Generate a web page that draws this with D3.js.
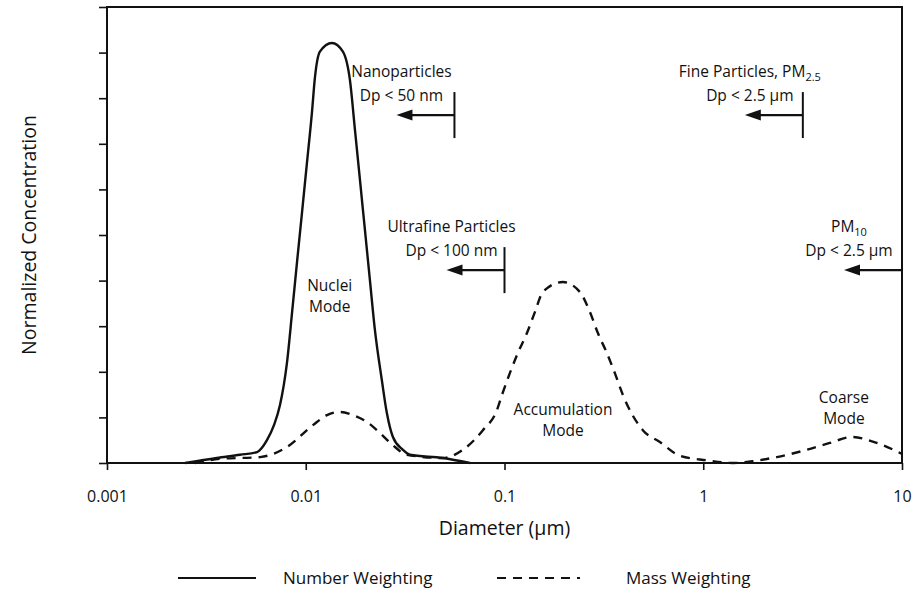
<!DOCTYPE html>
<html>
<head>
<meta charset="utf-8">
<script src="https://cdn.jsdelivr.net/npm/d3@7"></script>
<style>
    body { margin: 0; background: #fff; }
    text { font-family: "Open Sans", sans-serif; fill: #111; }
</style>
</head>
<body>
<svg id="chart" width="917" height="597"></svg>
<script>

// ----- DATA -----

// number weighting (solid line), diameter in µm
var numberDiam = [0.00247, 0.00357, 0.00467, 0.00569, 0.00638, 0.00692, 0.00742, 0.00804, 0.00853, 0.00903,
    0.00957, 0.01014, 0.01074, 0.01112, 0.01178, 0.01354, 0.01538, 0.01668, 0.01769, 0.01874,
    0.01985, 0.02103, 0.02228, 0.02414, 0.02558, 0.02745, 0.03081, 0.03341, 0.04895, 0.067];
var numberConc = [0, 0.11, 0.18, 0.24, 0.50, 0.83, 1.27, 2.19, 3.29, 4.39,
    5.48, 6.58, 7.68, 8.45, 9.02, 9.21, 9.02, 8.40, 7.30, 6.21,
    5.11, 4.01, 2.92, 1.82, 1.10, 0.57, 0.29, 0.18, 0.11, 0];

// mass weighting (dashed line)
var massDiam = [0.00277, 0.0037, 0.00589, 0.00804, 0.01087, 0.01279, 0.01486, 0.01727, 0.02031, 0.02361,
    0.02745, 0.03226, 0.04895, 0.0618, 0.07786, 0.09159, 0.09706, 0.1064, 0.1167, 0.1297,
    0.1422, 0.156, 0.1966, 0.2395, 0.269, 0.295, 0.3275, 0.3591, 0.3943, 0.4966,
    0.605, 0.7625, 1.042, 1.409, 1.775, 2.344, 3.318, 4.333, 5.593, 7.469, 10];
var massConc = [0, 0.09, 0.13, 0.35, 0.83, 1.05, 1.12, 1.05, 0.90, 0.66,
    0.39, 0.18, 0.11, 0.29, 0.72, 1.16, 1.49, 1.97, 2.41, 2.85,
    3.31, 3.75, 3.97, 3.75, 3.31, 2.85, 2.41, 1.97, 1.49, 0.72,
    0.46, 0.16, 0.06, 0, 0.04, 0.13, 0.29, 0.44, 0.57, 0.44, 0.20];

// axes
var xTicks = [0.001, 0.01, 0.1, 1, 10];
var xTickLabels = ["0.001", "0.01", "0.1", "1", "10"];
var yTicks = [0, 1, 2, 3, 4, 5, 6, 7, 8, 9, 10];

// size cut markers
var markerTitle = ["Nanoparticles", "Fine Particles, PM", "Ultrafine Particles", "PM"];
var markerSub = ["", "2.5", "", "10"];
var markerRange = ["Dp < 50 nm", "Dp < 2.5 µm", "Dp < 100 nm", "Dp < 2.5 µm"];
var markerDiam = [0.056, 3.17, 0.1, 10];
var markerLevel = [7.63, 7.63, 4.23, 4.23];

// mode labels
var modeName = ["Nuclei", "Accumulation", "Coarse"];
var modeDiam = [0.0132, 0.197, 5.1];
var modeLevel = [3.77, 1.05, 1.32];

// legend
var legendNames = ["Number Weighting", "Mass Weighting"];

// ----- CHART -----

var svg = d3.select("#chart");

var x = d3.scaleLog().domain([0.001, 10]).range([107, 902]);
var y = d3.scaleLinear().domain([0, 10]).range([463, 7]);

// axes
var xAxis = svg.append("g")
    .attr("transform", "translate(0," + y(0) + ")")
    .call(d3.axisBottom(x)
        .tickValues(xTicks)
        .tickFormat(function(d, i) { return xTickLabels[i]; })
        .tickSize(7)
        .tickPadding(32));
xAxis.select(".domain").remove();
xAxis.selectAll("line").attr("stroke", "#111").attr("stroke-width", 1.6);
xAxis.selectAll("text")
    .style("font-family", "'Open Sans', sans-serif")
    .style("font-size", "16px")
    .attr("fill", "#111")
    .attr("dy", "0");

var yAxis = svg.append("g")
    .attr("transform", "translate(" + x(0.001) + ",0)")
    .call(d3.axisLeft(y)
        .tickValues(yTicks)
        .tickFormat("")
        .tickSize(8));
yAxis.select(".domain").remove();
yAxis.selectAll("line").attr("stroke", "#111").attr("stroke-width", 1.6);

// frame
svg.append("rect")
    .attr("x", x(0.001))
    .attr("y", y(10))
    .attr("width", x(10) - x(0.001))
    .attr("height", y(0) - y(10))
    .attr("fill", "none")
    .attr("stroke", "#111")
    .attr("stroke-width", 2);

// axis titles
svg.append("text")
    .attr("x", (x(0.001) + x(10)) / 2)
    .attr("y", 535)
    .attr("text-anchor", "middle")
    .style("font-size", "19.5px")
    .text("Diameter (µm)");

svg.append("text")
    .attr("transform", "translate(36," + ((y(0) + y(10)) / 2) + ") rotate(-90)")
    .attr("text-anchor", "middle")
    .style("font-size", "19.5px")
    .text("Normalized Concentration");

// ----- CURVES -----

var line = d3.line()
    .x(function(d) { return x(d[0]); })
    .y(function(d) { return y(d[1]); })
    .curve(d3.curveMonotoneX);

svg.append("path")
    .datum(d3.zip(numberDiam, numberConc))
    .attr("d", line)
    .attr("fill", "none")
    .attr("stroke", "#111")
    .attr("stroke-width", 2.4);

svg.append("path")
    .datum(d3.zip(massDiam, massConc))
    .attr("d", line)
    .attr("fill", "none")
    .attr("stroke", "#111")
    .attr("stroke-width", 2.4)
    .attr("stroke-dasharray", "9,7");

// ----- MARKERS -----

markerDiam.forEach(function(d, i) {
    var mx = x(d);
    var my = y(markerLevel[i]);
    var tx = Math.min(mx - 53, x(10) - 40);

    // vertical cut line
    svg.append("line")
        .attr("x1", mx).attr("x2", mx)
        .attr("y1", my - 23).attr("y2", my + 23)
        .attr("stroke", "#111")
        .attr("stroke-width", 2);

    // arrow pointing to smaller sizes
    svg.append("line")
        .attr("x1", mx).attr("x2", mx - 44)
        .attr("y1", my).attr("y2", my)
        .attr("stroke", "#111")
        .attr("stroke-width", 2.2);
    svg.append("path")
        .attr("d", "M" + (mx - 58) + "," + my + " L" + (mx - 42) + "," + (my - 5.5) + " L" + (mx - 42) + "," + (my + 5.5) + " Z")
        .attr("fill", "#111");

    var t = svg.append("text")
        .attr("x", tx)
        .attr("y", my - 38)
        .attr("text-anchor", "middle")
        .style("font-size", "15.5px");
    t.append("tspan").text(markerTitle[i]);
    if (markerSub[i]) {
        t.append("tspan")
            .attr("dy", 4)
            .style("font-size", "11px")
            .text(markerSub[i]);
    }

    svg.append("text")
        .attr("x", tx)
        .attr("y", my - 14)
        .attr("text-anchor", "middle")
        .style("font-size", "15.5px")
        .text(markerRange[i]);
});

// ----- MODE LABELS -----

modeName.forEach(function(name, i) {
    var t = svg.append("text")
        .attr("x", x(modeDiam[i]))
        .attr("y", y(modeLevel[i]))
        .attr("text-anchor", "middle")
        .style("font-size", "15.5px");
    t.append("tspan").text(name);
    t.append("tspan")
        .attr("x", x(modeDiam[i]))
        .attr("dy", 21)
        .text("Mode");
});

// ----- LEGEND -----

var legend = svg.append("g").attr("transform", "translate(0,578)");

legend.append("line")
    .attr("x1", 178).attr("x2", 256)
    .attr("stroke", "#111")
    .attr("stroke-width", 2);
legend.append("text")
    .attr("x", 283)
    .attr("y", 6)
    .style("font-size", "17px")
    .text(legendNames[0]);

legend.append("line")
    .attr("x1", 497).attr("x2", 580)
    .attr("stroke", "#111")
    .attr("stroke-width", 2)
    .attr("stroke-dasharray", "9,7");
legend.append("text")
    .attr("x", 626)
    .attr("y", 6)
    .style("font-size", "17px")
    .text(legendNames[1]);

</script>
</body>
</html>
